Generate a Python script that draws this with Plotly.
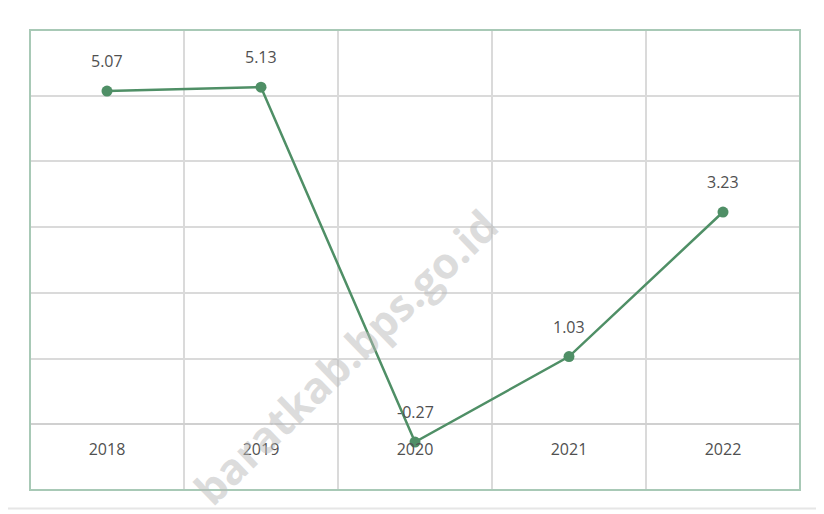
import plotly.graph_objects as go

years = ["2018", "2019", "2020", "2021", "2022"]
values = [5.07, 5.13, -0.27, 1.03, 3.23]
labels = ["5.07", "5.13", "-0.27", "1.03", "3.23"]

line_color = "#4f8f66"
font_family = "Open Sans, Noto Sans, sans-serif"

fig = go.Figure()
fig.add_trace(go.Scatter(
    x=years, y=values,
    mode="lines+markers",
    line=dict(color=line_color, width=2.5),
    marker=dict(color=line_color, size=11),
    cliponaxis=False,
    hoverinfo="skip",
))

annotations = [
    dict(x=i, y=v, text=t, xref="x", yref="y", showarrow=False,
         yshift=30, font=dict(family=font_family, size=16, color="#505050"))
    for i, (v, t) in enumerate(zip(values, labels))
]
annotations.append(
    dict(text="<b>baratkab.bps.go.id</b>", xref="paper", yref="paper",
         x=0.41, y=0.29, xanchor="center", yanchor="middle",
         showarrow=False, textangle=-44,
         font=dict(family=font_family, size=43, color="rgba(185,185,185,0.5)"))
)

fig.update_layout(
    width=824, height=514,
    margin=dict(l=22, r=32, t=22, b=32),
    paper_bgcolor="white",
    plot_bgcolor="white",
    showlegend=False,
    xaxis=dict(
        type="category",
        range=[-0.5, 4.5],
        tickson="boundaries",
        showgrid=True, gridcolor="#dadada", gridwidth=1.5,
        showline=False, zeroline=False,
        anchor="free", position=1/7,
        ticks="", ticklabelstandoff=14,
        tickfont=dict(family=font_family, size=16, color="#505050"),
        fixedrange=True,
    ),
    yaxis=dict(
        range=[-1, 6], dtick=1, tick0=0,
        showgrid=True, gridcolor="#dadada", gridwidth=1.5,
        zeroline=True, zerolinecolor="#d0d0d0", zerolinewidth=1.5,
        showticklabels=False, showline=False,
        fixedrange=True,
    ),
    shapes=[
        dict(type="rect", xref="paper", yref="paper", x0=0, x1=1, y0=0, y1=1,
             line=dict(color="#a8c9b6", width=2), fillcolor="rgba(0,0,0,0)", layer="above"),
        dict(type="rect", xref="paper", yref="paper", x0=-0.03, x1=1.024, y0=-0.04, y1=1.057,
             line=dict(color="#e6e6e6", width=2), fillcolor="rgba(0,0,0,0)", layer="below"),
    ],
    annotations=annotations,
)

fig.write_html("out.html")
